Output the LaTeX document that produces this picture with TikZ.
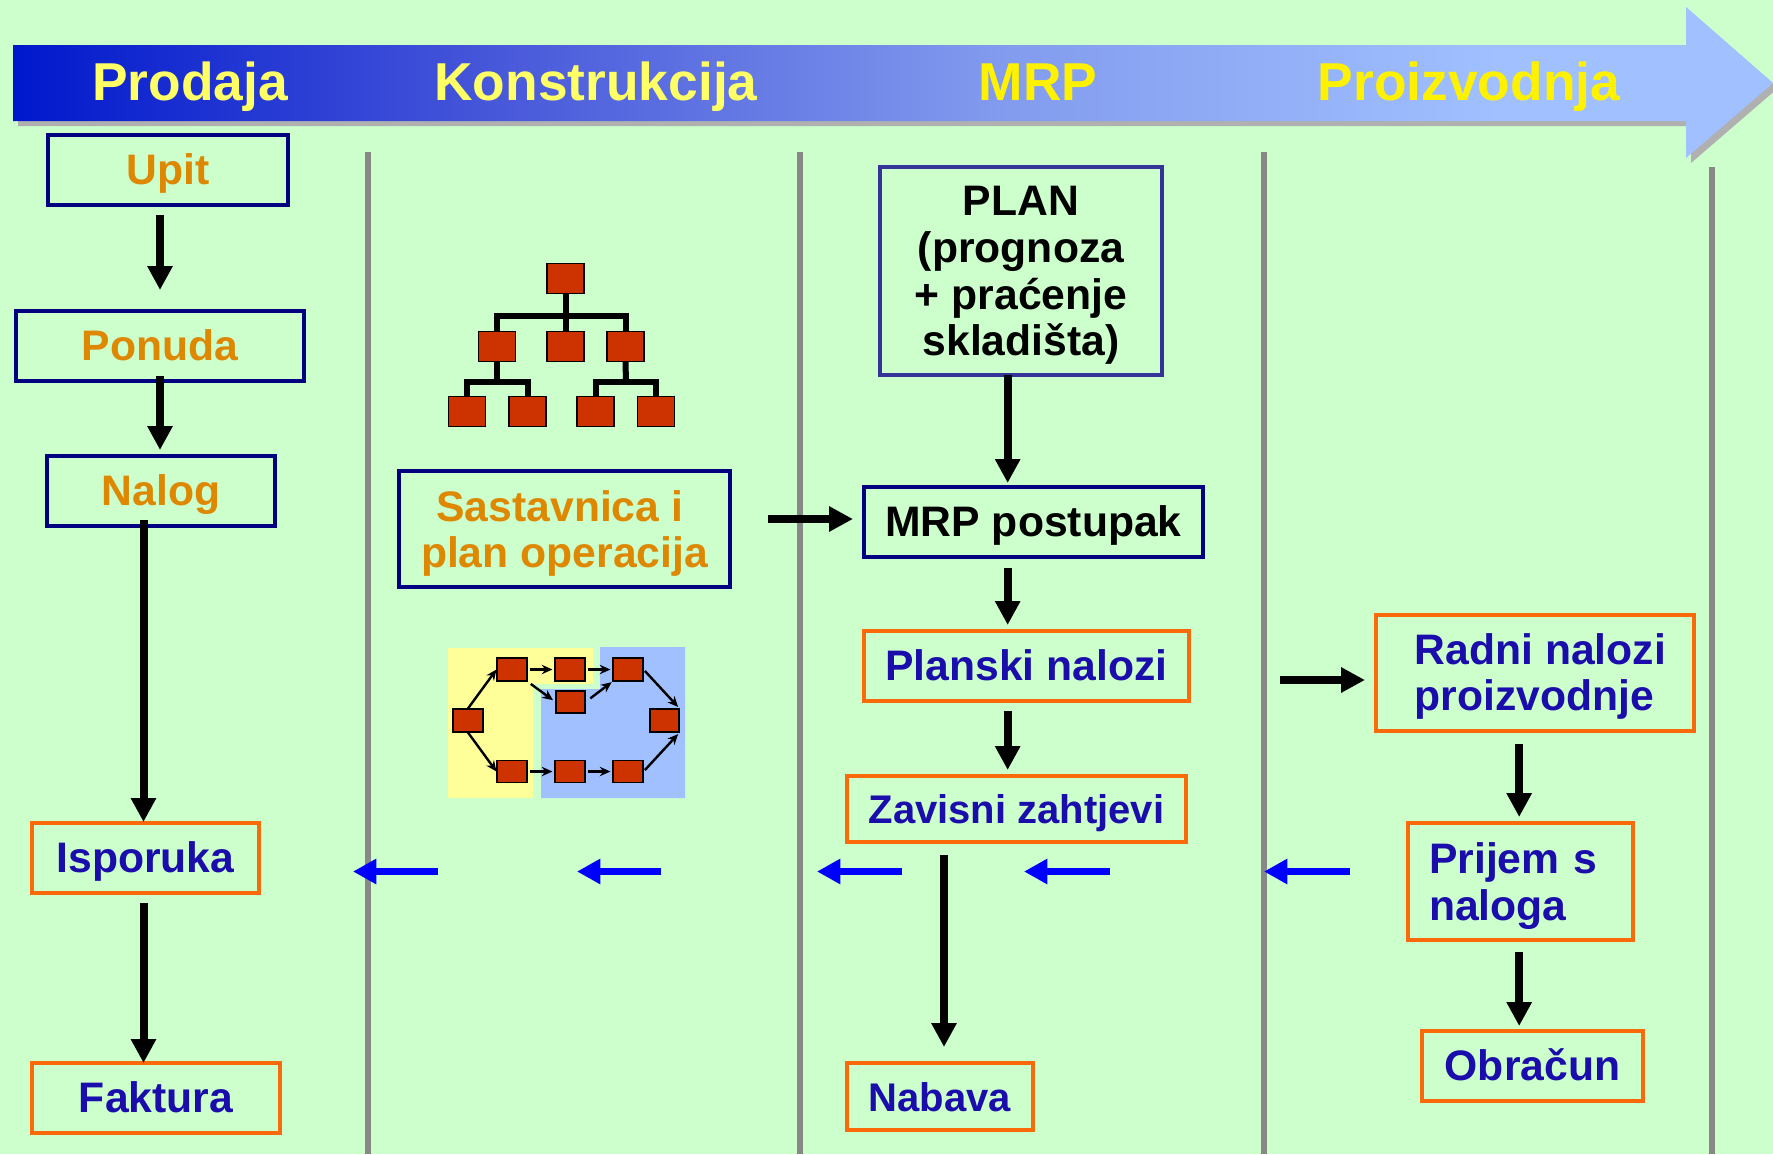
\documentclass[tikz,border=0pt]{standalone}
\usepackage{fontspec}
\setmainfont{Liberation Sans}
\usetikzlibrary{arrows.meta}
\definecolor{bgreen}{RGB}{204,255,204}
\definecolor{barleft}{RGB}{0,24,204}
\definecolor{barmida}{RGB}{72,88,218}
\definecolor{barmidb}{RGB}{130,155,238}
\definecolor{barright}{RGB}{160,192,255}
\definecolor{barshadow}{RGB}{176,176,176}
\definecolor{sepgray}{RGB}{136,136,136}
\definecolor{navyline}{RGB}{0,0,128}
\definecolor{planline}{RGB}{51,51,153}
\definecolor{orangeline}{RGB}{250,106,10}
\definecolor{ambertext}{RGB}{221,136,0}
\definecolor{inktext}{RGB}{26,13,171}
\definecolor{softyellow}{RGB}{255,255,102}
\definecolor{redbox}{RGB}{204,51,0}
\definecolor{paleyellow}{RGB}{255,255,153}
\definecolor{paleblue}{RGB}{160,192,255}
\pgfdeclarehorizontalshading{barshade}{100bp}{color(0bp)=(barleft); color(25bp)=(barleft); color(38.8bp)=(barmida); color(53bp)=(barmidb); color(67.2bp)=(barright); color(100bp)=(barright)}
\tikzset{
  sz/.style 2 args={minimum width=#1*0.75pt,minimum height=#2*0.75pt},
  gap/.style 2 args={shorten <=#1*0.75pt,shorten >=#2*0.75pt},
  boxbase/.style={draw,line width=3.3pt,inner sep=0pt,outer sep=0pt,font=\bfseries\fontsize{32}{35}\selectfont},
  oneline/.style={text height=25pt,text depth=3pt},
  navybox/.style={boxbase,draw=navyline,text=ambertext},
  orangebox/.style={boxbase,draw=orangeline,text=inktext},
  planbox/.style={boxbase,draw=planline,text=black,align=center},
  smallfont/.style={font=\bfseries\fontsize{30}{33}\selectfont},
  headtext/.style={anchor=base,font=\bfseries\fontsize{40}{44}\selectfont},
  sepline/.style={draw=sepgray,line width=4pt},
  blackarrow/.style={draw=black,line width=6pt,-{Triangle[length=18pt,width=18pt]}},
  bluearrow/.style={draw=blue,line width=5.5pt,-{Triangle[length=17.5pt,width=18pt]}},
  redcell/.style={draw=black,line width=0.8pt,fill=redbox,inner sep=0pt,sz={#1}},
  redcell/.default={37}{30},
  treeline/.style={draw=black,line width=4.5pt},
  netarrow/.style={draw=black,line width=1.8pt,-{Stealth[length=8pt,width=7pt]}}
}
\begin{document}
\begin{tikzpicture}[x=0.75pt,y=0.75pt,yscale=-1,xscale=1]
\fill [bgreen] (0,0) rectangle (1773,1154);
\useasboundingbox (0,0) rectangle (1773,1154);

%Shape: Banner arrow
\fill [barshadow] (18,50) -- (1691,50) -- (1691,12) -- (1778,88) -- (1691,163) -- (1691,126) -- (18,126) -- cycle;
\path [shading=barshade] (13,45) -- (1686,45) -- (1686,7) -- (1773,83) -- (1686,158) -- (1686,121) -- (13,121) -- cycle;

% Text Node
\node [headtext,text=softyellow] (prodaja) at (190,100) {Prodaja};
\node [headtext,text=softyellow] (konstrukcija) at (596,100) {Konstrukcija};
\node [headtext,text=yellow] (mrp) at (1038,100) {MRP};
\node [headtext,text=yellow] (proizvodnja) at (1469,100) {Proizvodnja};

%Straight Lines
\draw [sepline] (368,152) -- (368,1154);
\draw [sepline] (800,152) -- (800,1154);
\draw [sepline] (1264,152) -- (1264,1154);
\draw [sepline] (1712,167) -- (1712,1154);

% Boxes, first column
\node [navybox,oneline,sz={240}{70}] (upit) at (168,170) {Upit};
\node [navybox,oneline,sz={288}{70}] (ponuda) at (160,346) {Ponuda};
\node [navybox,oneline,sz={228}{70}] (nalog) at (161,491) {Nalog};
\node [orangebox,oneline,sz={227}{70}] (isporuka) at (145.5,858) {Isporuka};
\node [orangebox,oneline,sz={248}{70}] (faktura) at (156,1098) {Faktura};

% Boxes, second column
\node [navybox,sz={331}{116},align=center,text depth=0pt] (sastavnica) at (564.5,529) {Sastavnica i\hspace*{7pt}\\plan operacija};

% Boxes, third column
\node [planbox,sz={282}{208},text depth=0pt] (plan) at (1021,271) {PLAN\\(prognoza\\+ praćenje\\skladišta)};
\node [navybox,oneline,text=black,sz={339}{70}] (postupak) at (1033.5,522) {MRP postupak};
\node [orangebox,oneline,sz={325}{70}] (planski) at (1026.5,666) {Planski nalozi};
\node [orangebox,oneline,smallfont,sz={339}{66}] (zavisni) at (1016.5,809) {Zavisni zahtjevi};
\node [orangebox,oneline,smallfont,sz={186}{67}] (nabava) at (940,1096.5) {Nabava};

% Boxes, fourth column
\node [orangebox,sz={318}{116},align=left,text depth=1.5pt] (radni) at (1535,673) {\hspace*{8pt}Radni nalozi\\\hspace*{8pt}proizvodnje};
\node [orangebox,sz={225}{117},align=left,text width=137pt,text depth=35pt] (prijem) at (1520.5,881.5) {Prijem s\\naloga};
\node [orangebox,oneline,sz={221}{70}] (obracun) at (1532.5,1066) {Obračun};

% Tree of parts
\node [redcell] (root) at (565.5,278.5) {};
\node [redcell] (midl) at (497,346.5) {};
\node [redcell] (midc) at (565.5,346.5) {};
\node [redcell] (midr) at (625.5,346.5) {};
\node [redcell] (bota) at (467,411.5) {};
\node [redcell] (botb) at (527.5,411.5) {};
\node [redcell] (botc) at (595.5,411.5) {};
\node [redcell] (botd) at (656,411.5) {};
\coordinate (busa) at (566,316);
\coordinate (busb) at (497,382);
\coordinate (busc) at (626,382);
\draw [treeline] (root) -- (midc);
\draw [treeline] (midl.north) |- (busa) -| (midr.north);
\draw [treeline] (bota.north) |- (busb) -| (botb.north);
\draw [treeline] (botc.north) |- (busc) -| (botd.north);
\draw [treeline] (midl.south) -- (busb);
\draw [treeline] (midr.south) -- (busc);

% Operations plan
\fill [paleyellow] (448,648) -- (593,648) -- (593,684) -- (533,684) -- (533,798) -- (448,798) -- cycle;
\fill [paleblue] (600,647) -- (685,647) -- (685,798) -- (541,798) -- (541,689) -- (600,689) -- cycle;
\node [redcell={30}{23}] (opa) at (468,720.5) {};
\node [redcell={30}{23}] (opb) at (512,669.5) {};
\node [redcell={30}{23}] (opc) at (570,669.5) {};
\node [redcell={29}{22}] (opd) at (570.5,702) {};
\node [redcell={30}{23}] (ope) at (628,669.5) {};
\node [redcell={29}{23}] (opf) at (664.5,720.5) {};
\node [redcell={30}{22}] (opg) at (512,771.5) {};
\node [redcell={30}{22}] (oph) at (570,771.5) {};
\node [redcell={30}{22}] (opi) at (628,771.5) {};
\draw [netarrow] (opa.north) -- (opb.west);
\draw [netarrow] (opa.south) -- (opg.west);
\draw [netarrow,gap={2}{2}] (opb) -- (opc);
\draw [netarrow,gap={2}{2}] (opc) -- (ope);
\draw [netarrow,gap={2}{2}] (opg) -- (oph);
\draw [netarrow,gap={2}{2}] (oph) -- (opi);
\draw [netarrow,gap={4}{3}] (opb.south east) -- (opd.west);
\draw [netarrow,gap={6}{1}] (opd.east) -- (ope.south west);
\draw [netarrow,gap={2}{2}] (ope.east) -- (opf.north east);
\draw [netarrow,gap={2}{2}] (opi.east) -- (opf.south east);

%Straight Lines, black arrows
\coordinate (sastout) at (768,519);
\coordinate (radniin) at (1280,680);
\draw [blackarrow,gap={10}{21}] (upit.south -| ponuda) -- (ponuda.north);
\draw [blackarrow,gap={-5}{6}] (ponuda.south) -- (ponuda.south |- nalog.north);
\draw [blackarrow,gap={-6}{1}] ([xshift=-1.5pt]nalog.south -| isporuka) -- ([xshift=-1.5pt]isporuka.north);
\draw [blackarrow,gap={10}{0}] ([xshift=-1.5pt]isporuka.south) -- ([xshift=-1.5pt]isporuka.south |- faktura.north);
\draw [blackarrow,gap={0}{4}] ([xshift=-10pt]plan.south) -- ([xshift=-10pt]plan.south |- postupak.north);
\draw [blackarrow,gap={0}{11}] (sastout) -- (sastout -| postupak.west);
\draw [blackarrow,gap={11}{6}] ([xshift=-10pt]plan.south |- postupak.south) -- ([xshift=-10pt]plan.south |- planski.north);
\draw [blackarrow,gap={10}{6}] ([xshift=-10pt]plan.south |- planski.south) -- ([xshift=-10pt]plan.south |- zavisni.north);
\draw [blackarrow,gap={13}{16}] ([xshift=3pt]nabava.north |- zavisni.south) -- ([xshift=3pt]nabava.north);
\draw [blackarrow,gap={0}{11}] (radniin) -- (radniin -| radni.west);
\draw [blackarrow,gap={13}{6}] ([xshift=-1pt]prijem.north |- radni.south) -- ([xshift=-1pt]prijem.north);
\draw [blackarrow,gap={12}{5}] ([xshift=-1pt]prijem.south) -- ([xshift=-1pt]prijem.south |- obracun.north);

%Straight Lines, blue arrows
\foreach \xa/\xb [count=\i] in {438/353,661/577,902/817,1110/1024,1350/1264}{
  \coordinate (bluea\i) at (\xa,871.5);
  \coordinate (blueb\i) at (\xb,871.5);
  \draw [bluearrow] (bluea\i) -- (blueb\i);
}
\end{tikzpicture}
\end{document}
